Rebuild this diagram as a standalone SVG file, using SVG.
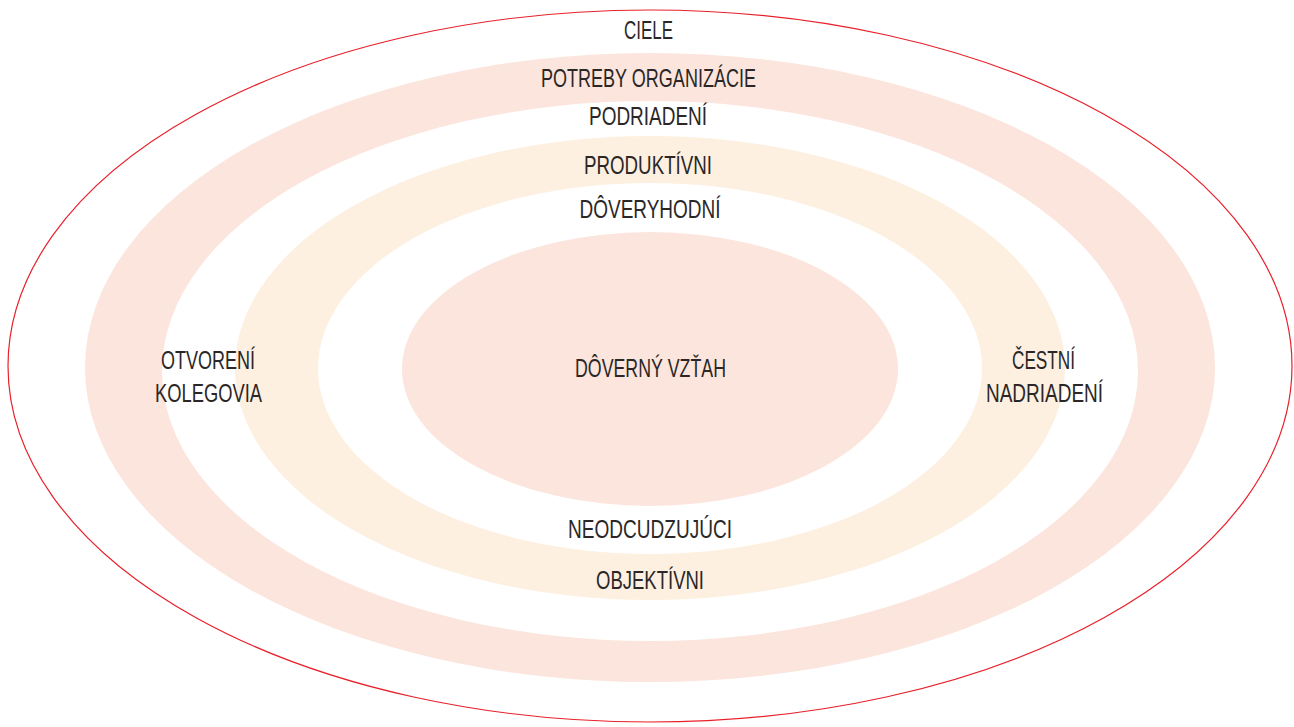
<svg xmlns="http://www.w3.org/2000/svg" width="1294" height="727" viewBox="0 0 1294 727">
<style>
.t{font-family:"Liberation Sans","DejaVu Sans",sans-serif;font-size:25px;fill:#2b2727;text-anchor:middle}
.pink{fill:#fbe5dc}
.orange{fill:#fdf0e1}
.white{fill:#ffffff}
</style>
<rect width="1294" height="727" fill="#ffffff"/>
<g id="outer">
<ellipse cx="650" cy="366" rx="642" ry="356" fill="#ffffff" stroke="#e8202a" stroke-width="1.2"/>
</g>
<g id="ring-pink">
<ellipse class="pink" cx="650" cy="367.5" rx="565" ry="314.5"/>
<ellipse class="white" cx="650" cy="371" rx="488" ry="270"/>
</g>
<g id="ring-orange">
<ellipse class="orange" cx="650" cy="368" rx="415" ry="232"/>
<ellipse class="white" cx="650" cy="368.5" rx="332" ry="185.5"/>
</g>
<g id="center">
<ellipse class="pink" cx="650" cy="369" rx="248" ry="137"/>
<text class="t" x="650.5" y="377" textLength="151" lengthAdjust="spacingAndGlyphs">DÔVERNÝ VZŤAH</text>
</g>
<g id="labels">
<text class="t" x="648.5" y="39" textLength="49" lengthAdjust="spacingAndGlyphs">CIELE</text>
<text class="t" x="648.5" y="87" textLength="215" lengthAdjust="spacingAndGlyphs">POTREBY ORGANIZÁCIE</text>
<text class="t" x="648" y="125" textLength="118" lengthAdjust="spacingAndGlyphs">PODRIADENÍ</text>
<text class="t" x="648" y="174" textLength="128" lengthAdjust="spacingAndGlyphs">PRODUKTÍVNI</text>
<text class="t" x="650" y="218" textLength="141" lengthAdjust="spacingAndGlyphs">DÔVERYHODNÍ</text>
<text class="t" x="650" y="538" textLength="164" lengthAdjust="spacingAndGlyphs">NEODCUDZUJÚCI</text>
<text class="t" x="650" y="589" textLength="108" lengthAdjust="spacingAndGlyphs">OBJEKTÍVNI</text>
<text class="t" x="208" y="369" textLength="94" lengthAdjust="spacingAndGlyphs">OTVORENÍ</text>
<text class="t" x="208.5" y="401.5" textLength="107" lengthAdjust="spacingAndGlyphs">KOLEGOVIA</text>
<text class="t" x="1043.5" y="369" textLength="63" lengthAdjust="spacingAndGlyphs">ČESTNÍ</text>
<text class="t" x="1044.5" y="401.5" textLength="117" lengthAdjust="spacingAndGlyphs">NADRIADENÍ</text>
</g>
<g id="connectors"></g>
</svg>
